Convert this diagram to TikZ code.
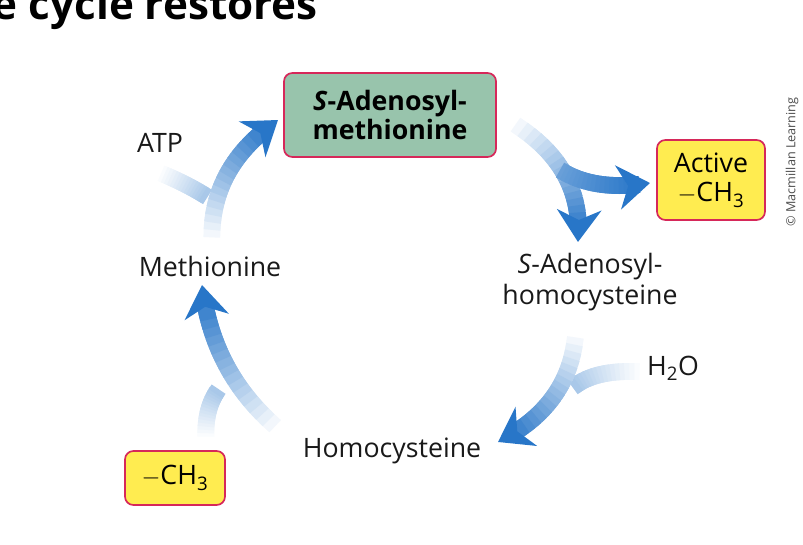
\documentclass[tikz,border=0pt]{standalone}
\usepackage{fontspec}
\setmainfont{Open Sans}
\usetikzlibrary{arrows.meta, calc}
\definecolor{arrowblue}{RGB}{40,118,200}
\definecolor{samgreen}{RGB}{152,196,172}
\definecolor{boxred}{RGB}{214,40,90}
\definecolor{boxyellow}{RGB}{255,236,80}

% shaft fading from white along a quadratic curve a-b-c
\newcommand\fadeshaft[5]{%
  \foreach \t [evaluate=\t as \s using \t+0.1, evaluate=\t as \p using #4+(#5-#4)*\t/0.9] in {0,0.05,...,0.85}{
    \draw[line width=0.42cm, arrowblue!\p!white]
      ($($(#1)!\t!(#2)$)!\t!($(#2)!\t!(#3)$)$) -- ($($(#1)!\s!(#2)$)!\s!($(#2)!\s!(#3)$)$);}}
\newcommand\fadearrow[5]{%
  \fadeshaft{#1}{#2}{#3}{#4}{#5}
  \draw[line width=0.42cm, arrowblue, -{Stealth[length=0.8cm, width=1.1cm, inset=0.25cm]}]
    ($($(#1)!0.9!(#2)$)!0.9!($(#2)!0.9!(#3)$)$) -- (#3);}

\begin{document}
\begin{tikzpicture}[
    x=0.025cm, y=-0.025cm,
    font=\sffamily,
    ybox/.style={draw=boxred, line width=1.2pt, fill=boxyellow, rounded corners=6pt, align=center, font=\fontsize{19}{21}\selectfont},
    samboxs/.style={draw=boxred, line width=1.2pt, fill=samgreen, rounded corners=6pt, align=center, font=\fontsize{19}{21}\selectfont\bfseries, inner sep=6pt},
    lbl/.style={font=\fontsize{19}{22}\selectfont, align=center, text=black!90}
]
\useasboundingbox (0,0) rectangle (803,545);

\node[font=\bfseries\fontsize{30}{30}\selectfont, anchor=base west] (title) at (-12,20) {e cycle restores};

% arrows
\coordinate (m1a) at (212,245); \coordinate (m1b) at (208,168); \coordinate (m1c) at (278,120);
\coordinate (atpa) at (158,172); \coordinate (atpb) at (190,185); \coordinate (atpc) at (212,200);
\fadeshaft{atpa}{atpb}{atpc}{0}{45}
\fadearrow{m1a}{m1b}{m1c}{0}{100}

\coordinate (m2a) at (508,120); \coordinate (m2b) at (585,165); \coordinate (m2c) at (578,242);
\coordinate (aca) at (560,170); \coordinate (acb) at (595,192); \coordinate (acc) at (650,183);
\fadearrow{m2a}{m2b}{m2c}{0}{100}
\fadearrow{aca}{acb}{acc}{70}{100}

\coordinate (m3a) at (576,330); \coordinate (m3b) at (572,405); \coordinate (m3c) at (498,442);
\coordinate (wa) at (645,372); \coordinate (wb) at (590,368); \coordinate (wc) at (568,392);
\fadeshaft{wa}{wb}{wc}{0}{45}
\fadearrow{m3a}{m3b}{m3c}{0}{100}

\coordinate (m4a) at (282,432); \coordinate (m4b) at (212,375); \coordinate (m4c) at (202,285);
\coordinate (ca) at (206,440); \coordinate (cb) at (204,405); \coordinate (cc) at (222,385);
\fadeshaft{ca}{cb}{cc}{0}{45}
\fadearrow{m4a}{m4b}{m4c}{0}{100}

% nodes
\node[samboxs, minimum width=5.3cm, minimum height=2.1cm] (sam) at (390,115) {\textit{S}-Adenosyl-\\methionine};
\node[ybox, minimum width=2.7cm, minimum height=2cm] (act) at (711,180) {Active\\$-$CH\textsubscript{3}};
\node[ybox, minimum width=2.5cm, minimum height=1.35cm] (ch3) at (175,478) {$-$CH\textsubscript{3}};
\node[lbl] (atp) at (160,143) {ATP};
\node[lbl] (met) at (210,266) {Methionine};
\node[lbl, inner sep=0pt] (sah) at (590,282) {\textit{S}-Adenosyl-\\homocysteine};
\node[lbl] (h2o) at (673,368) {H\textsubscript{2}O};
\node[lbl] (hcy) at (392,451) {Homocysteine};
\node[rotate=90, font=\small, text=black!70] (credit) at (792,162) {© Macmillan Learning};
\end{tikzpicture}
\end{document}
